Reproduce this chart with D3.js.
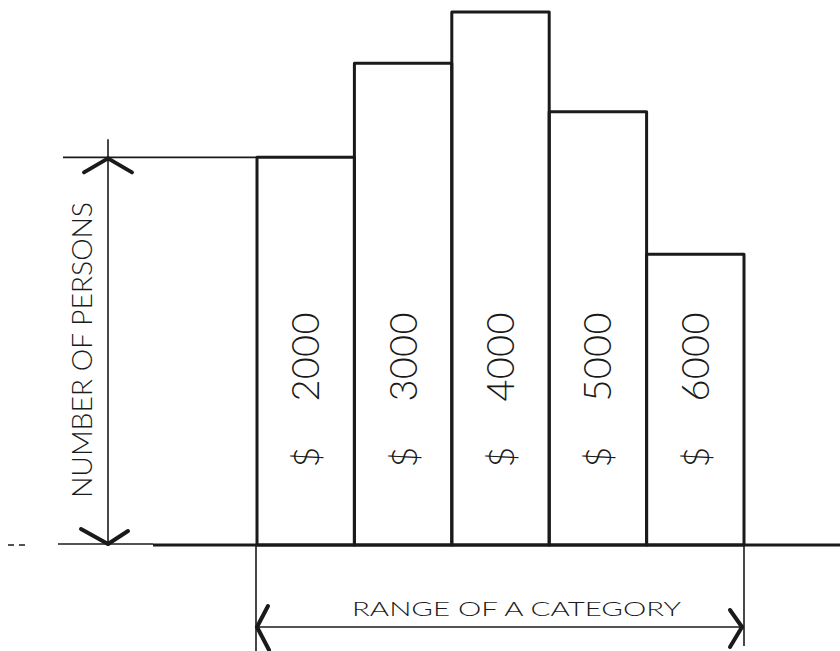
<!DOCTYPE html>
<html>
<head>
<meta charset="utf-8">
<script src="https://cdn.jsdelivr.net/npm/d3@7"></script>
<style>
  html, body { margin: 0; padding: 0; background: #fff; }
  svg { display: block; }
  text { font-family: "Lato", "Liberation Sans", "DejaVu Sans", sans-serif; font-weight: 300; fill: #1a1a1a; }
</style>
</head>
<body>
<svg id="chart" width="840" height="651"></svg>
<script>
// ---- data ----
const incomes = [2000, 3000, 4000, 5000, 6000];
const currencySymbol = "$";
const counts = [40, 49.7, 55, 44.7, 30];
const yAxisTitle = "NUMBER OF PERSONS";
const xAxisTitle = "RANGE OF A CATEGORY";

// ---- layout ----
const W = 840, H = 651;
const svg = d3.select("#chart");
const ink = "#1a1a1a";

const x = d3.scaleBand().domain(incomes).range([257, 744]).paddingInner(0).paddingOuter(0);
const y = d3.scaleLinear().domain([0, 55]).range([545, 12]);
const base = y(0);

// baseline
svg.append("line").attr("x1", 8).attr("x2", 30).attr("y1", base).attr("y2", base)
  .attr("stroke", ink).attr("stroke-width", 1.5).attr("stroke-dasharray", "6,5");
svg.append("line").attr("x1", 58).attr("x2", 153).attr("y1", base - 1).attr("y2", base - 1)
  .attr("stroke", ink).attr("stroke-width", 1.6);
svg.append("line").attr("x1", 153).attr("x2", W).attr("y1", base).attr("y2", base)
  .attr("stroke", ink).attr("stroke-width", 3);

// bars (outlines)
svg.append("g").selectAll("rect").data(counts).join("rect")
  .attr("x", (d, i) => x(incomes[i]))
  .attr("y", d => y(d))
  .attr("width", x.bandwidth())
  .attr("height", d => base - y(d))
  .attr("fill", "none")
  .attr("stroke", ink)
  .attr("stroke-width", 3)
  .attr("stroke-linejoin", "round");

// bar labels (rotated)
const lab = svg.append("g");
incomes.forEach((v, i) => {
  const cx = x(v) + x.bandwidth() / 2;
  lab.append("text")
    .attr("transform", `translate(${cx + 13.5},357) rotate(-90)`)
    .attr("text-anchor", "middle")
    .attr("font-size", 38)
    .attr("textLength", 89)
    .attr("lengthAdjust", "spacing")
    .text(v);
  lab.append("text")
    .attr("transform", `translate(${cx + 13.5},457) rotate(-90)`)
    .attr("text-anchor", "middle")
    .attr("font-size", 36)
    .text(currencySymbol);
});

// vertical dimension (number of persons)
const ax = 108;
const yTop = y(counts[0]);
svg.append("line").attr("x1", 63).attr("x2", x(incomes[0])).attr("y1", yTop).attr("y2", yTop)
  .attr("stroke", ink).attr("stroke-width", 1.6);
svg.append("line").attr("x1", ax).attr("x2", ax).attr("y1", yTop - 18).attr("y2", base)
  .attr("stroke", ink).attr("stroke-width", 1.6);
const arm = (x1, y1, x2, y2) => svg.append("line")
  .attr("x1", x1).attr("y1", y1).attr("x2", x2).attr("y2", y2)
  .attr("stroke", ink).attr("stroke-width", 4).attr("stroke-linecap", "round");
arm(ax, yTop + 1, 84, yTop + 15);
arm(ax, yTop + 1, 132, yTop + 15);
arm(ax, base - 1, 81, base - 16);
arm(ax, base - 1, 128, base - 14);

svg.append("text")
  .attr("transform", `translate(92,350) rotate(-90)`)
  .attr("text-anchor", "middle")
  .attr("font-size", 27)
  .attr("font-weight", 400)
  .attr("textLength", 296)
  .attr("lengthAdjust", "spacingAndGlyphs")
  .text(yAxisTitle);

// horizontal dimension (range of a category)
const [xl, xr] = x.range();
const ay = 627;
svg.append("line").attr("x1", xl - 1).attr("x2", xl - 1).attr("y1", base).attr("y2", H)
  .attr("stroke", ink).attr("stroke-width", 1.6);
svg.append("line").attr("x1", xr).attr("x2", xr).attr("y1", base).attr("y2", 646)
  .attr("stroke", ink).attr("stroke-width", 1.6);
svg.append("line").attr("x1", xl).attr("x2", xr).attr("y1", ay).attr("y2", ay)
  .attr("stroke", ink).attr("stroke-width", 1.6);
arm(xl, ay, 268, 606);
arm(xl, ay, 269, 650);
arm(xr - 2, ay, 730, 610);
arm(xr - 2, ay, 730, 647);

svg.append("text")
  .attr("x", 516.5).attr("y", 616)
  .attr("text-anchor", "middle")
  .attr("font-size", 19.5)
  .attr("font-weight", 400)
  .attr("textLength", 329)
  .attr("lengthAdjust", "spacingAndGlyphs")
  .text(xAxisTitle);
</script>
</body>
</html>
